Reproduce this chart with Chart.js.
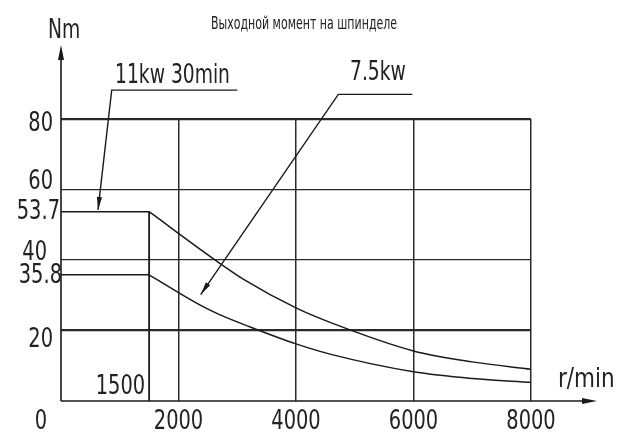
<!DOCTYPE html>
<html>
<head>
<meta charset="utf-8">
<script src="https://cdn.jsdelivr.net/npm/chart.js@4/dist/chart.umd.min.js"></script>
<style>
  html, body { margin: 0; padding: 0; background: #fff; }
  #wrap { width: 629px; height: 436px; }
</style>
</head>
<body>
<div id="wrap"><canvas id="c" width="629" height="436"></canvas></div>
<script>
// ---- data ----
const chartTitle = 'Выходной момент на шпинделе';
const yAxisName = 'Nm';
const xAxisName = 'r/min';
const xTicks = [0, 2000, 4000, 6000, 8000];
const yGridTicks = [20, 40, 60, 80];
const yLabelTicks = [80, 60, 53.7, 40, 35.8, 20];
const baseSpeed = 1500;
const ratedTorque11 = 53.7;
const ratedTorque75 = 35.8;
const speed11 = [1500, 2650, 3130, 4000, 4580, 6000, 7000, 8000];
const torque11 = [53.7, 39.7, 34.3, 26.4, 22.3, 14.2, 11.1, 9.0];
const speed75 = [1500, 2370, 2700, 3220, 4000, 4580, 6000, 7000, 8000];
const torque75 = [35.8, 27.2, 24.5, 21.0, 16.2, 13.3, 8.3, 6.4, 5.3];
const label11 = '11kw 30min';
const label75 = '7.5kw';

// ---- styling / annotation placement ----
const FONT = '"DejaVu Sans Condensed", "Liberation Sans Narrow", sans-serif';
const INK = '#1a1a1a';
const TXT = '#222';
const yLabelStyle = { // dx = right edge offset from axis, dy = shift of vertical middle
  80: {dx: -8, dy: 5}, 60: {dx: -8, dy: -8}, 53.7: {dx: -1, dy: 0},
  40: {dx: -14, dy: -7}, 35.8: {dx: 1, dy: 1}, 20: {dx: -8, dy: 9}
};
const notes = [
  { text: label11, textAt: {x: 919, y: 90.2}, tip: {x: 630, y: 54.2}, elbow: {x: 863, y: 88.2}, end: {x: 3000, y: 88.2} },
  { text: label75, textAt: {x: 4919, y: 91.0}, tip: {x: 2378, y: 30.2}, elbow: {x: 4720, y: 87.0}, end: {x: 5980, y: 87.0} }
];

const pts = (xs, ys) => xs.map((x, i) => ({x, y: ys[i]}));

function arrowHead(ctx, fx, fy, tx, ty, len, half) {
  const a = Math.atan2(ty - fy, tx - fx);
  ctx.beginPath();
  ctx.moveTo(tx, ty);
  ctx.lineTo(tx - len * Math.cos(a) + half * Math.sin(a), ty - len * Math.sin(a) - half * Math.cos(a));
  ctx.lineTo(tx - len * Math.cos(a) - half * Math.sin(a), ty - len * Math.sin(a) + half * Math.cos(a));
  ctx.closePath();
  ctx.fill();
}

function txt(ctx, s, x, y, align, sx) {
  ctx.save();
  ctx.translate(x, y);
  ctx.scale(sx, 1);
  ctx.textAlign = align;
  ctx.fillText(s, 0, 0);
  ctx.restore();
}

const drawingPlugin = {
  id: 'drawing',
  afterDraw(chart) {
    const {ctx, scales: {x, y}} = chart;
    ctx.save();
    ctx.strokeStyle = INK;
    ctx.fillStyle = INK;
    // axes with arrows
    const x0 = x.getPixelForValue(0), y0 = y.getPixelForValue(0);
    ctx.lineWidth = 1.6;
    ctx.beginPath();
    ctx.moveTo(x0, y0); ctx.lineTo(x0, 50);
    ctx.moveTo(x0, y0); ctx.lineTo(592, y0);
    ctx.stroke();
    arrowHead(ctx, x0, y0, x0, 45, 15, 3);
    arrowHead(ctx, x0, y0, 597, y0, 15, 3);

    ctx.fillStyle = TXT;
    ctx.textBaseline = 'alphabetic';
    // title
    ctx.font = '17px ' + FONT;
    txt(ctx, chartTitle, 304, 29, 'center', 0.72);

    // axis names
    ctx.font = '26px ' + FONT;
    txt(ctx, yAxisName, x0 + 3, 38, 'center', 0.8);
    txt(ctx, xAxisName, 558, 387, 'left', 0.92);

    // y labels
    ctx.font = '27px ' + FONT;
    ctx.textBaseline = 'middle';
    yLabelTicks.forEach(v => {
      const s = yLabelStyle[v];
      txt(ctx, String(v), x0 + s.dx, y.getPixelForValue(v) + s.dy, 'right', 0.8);
    });

    // x labels
    ctx.textBaseline = 'alphabetic';
    xTicks.forEach(v => {
      const px = x.getPixelForValue(v) + (v === 0 ? -20 : 0);
      txt(ctx, String(v), px, y0 + 28, 'center', 0.8);
    });
    txt(ctx, String(baseSpeed), x.getPixelForValue(baseSpeed) - 4, y0 - 7, 'right', 0.8);

    // leader notes
    ctx.lineWidth = 1.4;
    notes.forEach(n => {
      const tx = x.getPixelForValue(n.tip.x), ty = y.getPixelForValue(n.tip.y);
      const ex = x.getPixelForValue(n.elbow.x), ey = y.getPixelForValue(n.elbow.y);
      const fx = x.getPixelForValue(n.end.x), fy = y.getPixelForValue(n.end.y);
      ctx.beginPath();
      ctx.moveTo(fx, fy); ctx.lineTo(ex, ey); ctx.lineTo(tx, ty);
      ctx.stroke();
      ctx.fillStyle = INK;
      arrowHead(ctx, ex, ey, tx, ty, 13, 2.6);
      ctx.fillStyle = TXT;
      ctx.font = '26px ' + FONT;
      txt(ctx, n.text, x.getPixelForValue(n.textAt.x), y.getPixelForValue(n.textAt.y), 'left', 0.8);
    });
    ctx.restore();
  }
};

const lineStyle = { borderColor: INK, borderWidth: 1.5, pointRadius: 0, fill: false };

new Chart(document.getElementById('c'), {
  type: 'line',
  data: {
    datasets: [
      { ...lineStyle, data: [{x: 0, y: ratedTorque11}, {x: baseSpeed, y: ratedTorque11}] },
      { ...lineStyle, data: [{x: 0, y: ratedTorque75}, {x: baseSpeed, y: ratedTorque75}] },
      { ...lineStyle, borderWidth: 1.8, data: [{x: baseSpeed, y: 0}, {x: baseSpeed, y: ratedTorque11}] },
      { ...lineStyle, cubicInterpolationMode: 'monotone', data: pts(speed11, torque11) },
      { ...lineStyle, cubicInterpolationMode: 'monotone', data: pts(speed75, torque75) }
    ]
  },
  options: {
    responsive: false,
    animation: false,
    devicePixelRatio: 1,
    layout: { padding: { left: 61, right: 98, top: 119, bottom: 35 } },
    plugins: { legend: { display: false }, tooltip: { enabled: false }, title: { display: false } },
    scales: {
      x: {
        type: 'linear', min: 0, max: 8000,
        afterBuildTicks: s => { s.ticks = xTicks.map(v => ({value: v})); },
        ticks: { display: false },
        border: { display: false },
        grid: {
          drawTicks: false,
          color: c => c.tick && c.tick.value === 0 ? 'rgba(0,0,0,0)' : '#2a2a2a',
          lineWidth: 1.5
        }
      },
      y: {
        type: 'linear', min: 0, max: 80,
        afterBuildTicks: s => { s.ticks = yGridTicks.map(v => ({value: v})); },
        ticks: { display: false },
        border: { display: false },
        grid: {
          drawTicks: false,
          color: '#2a2a2a',
          lineWidth: c => (c.tick && (c.tick.value === 20 || c.tick.value === 80)) ? 2.2 : 1.3
        }
      }
    }
  },
  plugins: [drawingPlugin]
});
</script>
</body>
</html>
